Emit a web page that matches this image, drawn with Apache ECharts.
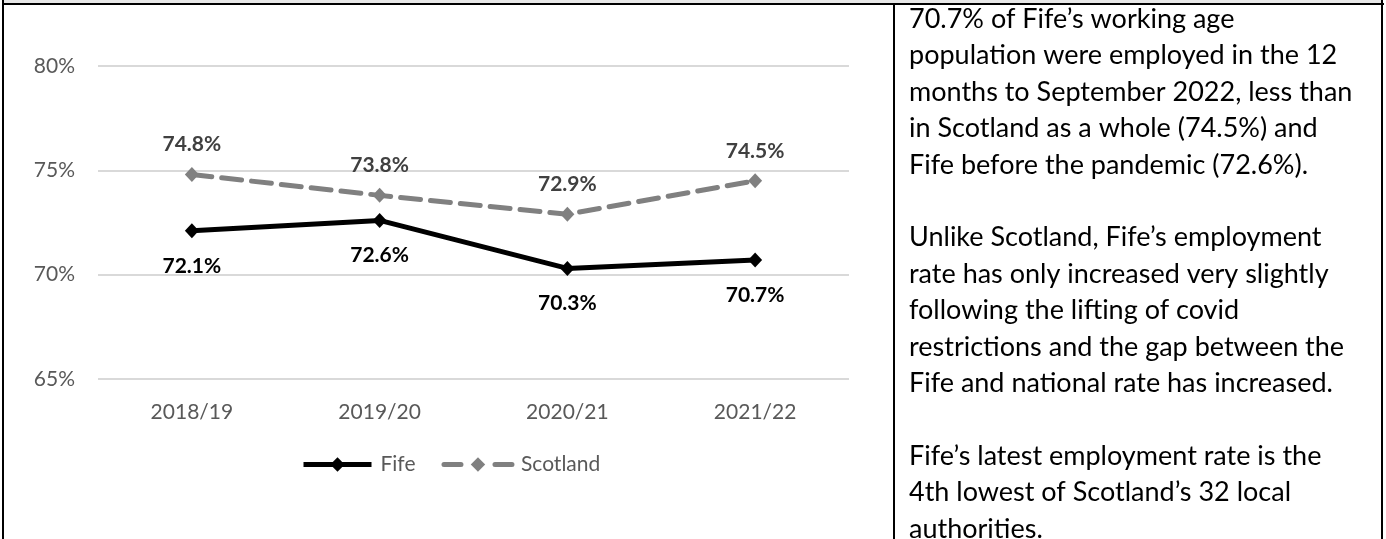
<!DOCTYPE html>
<html>
<head>
<meta charset="utf-8">
<title>Fife employment rate</title>
<script src="https://cdn.jsdelivr.net/npm/echarts@6/dist/echarts.min.js"></script>
<style>
  html, body { margin: 0; padding: 0; background: #ffffff; }
  #chart { width: 1386px; height: 539px; }
</style>
</head>
<body>
<div id="chart"></div>
<script>
// Employment rate of the working age population, 12 months to September
const categories = ['2018/19', '2019/20', '2020/21', '2021/22'];
const fifeRate = [72.1, 72.6, 70.3, 70.7];
const scotlandRate = [74.8, 73.8, 72.9, 74.5];
const yTicks = { min: 65, max: 80, step: 5 };

// Commentary beside the chart, one entry per paragraph
const commentary = [
  ['70.7% of Fife’s working age',
   'population were employed in the 12',
   'months to September 2022, less than',
   'in Scotland as a whole (74.5%) and',
   'Fife before the pandemic (72.6%).'],
  ['Unlike Scotland, Fife’s employment',
   'rate has only increased very slightly',
   'following the lifting of covid',
   'restrictions and the gap between the',
   'Fife and national rate has increased.'],
  ['Fife’s latest employment rate is the',
   '4th lowest of Scotland’s 32 local',
   'authorities.']
];

const FONT = 'Lato, "Open Sans", sans-serif';
const chart = echarts.init(document.getElementById('chart'), null, { renderer: 'canvas' });

// Paragraphs separated by an empty line
const commentaryText = commentary.map(p => p.join('\n')).join('\n\n');
const textBlock = {
  type: 'text',
  left: 909,
  top: 1,
  z: 10,
  style: {
    text: commentaryText,
    font: '27px ' + FONT,
    fill: '#000000',
    lineHeight: 36.4,
    textVerticalAlign: 'top'
  }
};

// Table cell borders framing the chart and the commentary
const frame = [
  { type: 'rect', shape: { x: 4, y: 0, width: 1377, height: 3 }, style: { fill: '#e7e7e7' } },
  { type: 'rect', shape: { x: 2, y: 3, width: 1382, height: 2 }, style: { fill: '#000000' } },
  { type: 'rect', shape: { x: 2, y: 0, width: 2, height: 539 }, style: { fill: '#000000' } },
  { type: 'rect', shape: { x: 893, y: 5, width: 2, height: 534 }, style: { fill: '#000000' } },
  { type: 'rect', shape: { x: 1381, y: 0, width: 2, height: 539 }, style: { fill: '#000000' } }
];

const option = {
  animation: false,
  backgroundColor: '#ffffff',
  textStyle: { fontFamily: FONT },
  grid: { left: 98, right: 537, top: 66, bottom: 160, containLabel: false },
  legend: {
    left: 296,
    top: 449,
    itemWidth: 68,
    itemHeight: 18,
    itemGap: 26,
    textStyle: { fontSize: 21, color: '#595959', fontFamily: FONT, padding: [0, 0, 0, 4] },
    data: [
      { name: 'Fife', lineStyle: { width: 5 } },
      { name: 'Scotland', lineStyle: { width: 5, type: [17, 34] } }
    ]
  },
  xAxis: {
    type: 'category',
    data: categories,
    boundaryGap: true,
    axisLine: { show: false },
    axisTick: { show: false },
    axisLabel: { fontSize: 21, color: '#595959', margin: 23, fontFamily: FONT }
  },
  yAxis: {
    type: 'value',
    min: yTicks.min,
    max: yTicks.max,
    interval: yTicks.step,
    axisLine: { show: false },
    axisTick: { show: false },
    splitLine: { lineStyle: { color: '#d9d9d9', width: 2 } },
    axisLabel: {
      fontSize: 21, color: '#595959', margin: 23, fontFamily: FONT,
      formatter: v => v + '%'
    }
  },
  series: [
    {
      name: 'Fife',
      type: 'line',
      data: fifeRate,
      symbol: 'diamond',
      symbolSize: [14, 15],
      itemStyle: { color: '#000000' },
      lineStyle: { color: '#000000', width: 5 },
      z: 3,
      label: {
        show: true,
        position: 'bottom',
        distance: 17,
        fontSize: 21,
        fontWeight: 'bold',
        color: '#000000',
        fontFamily: FONT,
        formatter: p => p.value.toFixed(1) + '%'
      }
    },
    {
      name: 'Scotland',
      type: 'line',
      data: scotlandRate,
      symbol: 'diamond',
      symbolSize: [14, 15],
      itemStyle: { color: '#808080' },
      lineStyle: { color: '#808080', width: 5, type: [20, 10], cap: 'round' },
      z: 2,
      label: {
        show: true,
        position: 'top',
        distance: 12,
        fontSize: 21,
        fontWeight: 'bold',
        color: '#404040',
        fontFamily: FONT,
        formatter: p => p.value.toFixed(1) + '%'
      }
    }
  ],
  graphic: frame.concat([textBlock])
};

chart.setOption(option);
</script>
</body>
</html>
